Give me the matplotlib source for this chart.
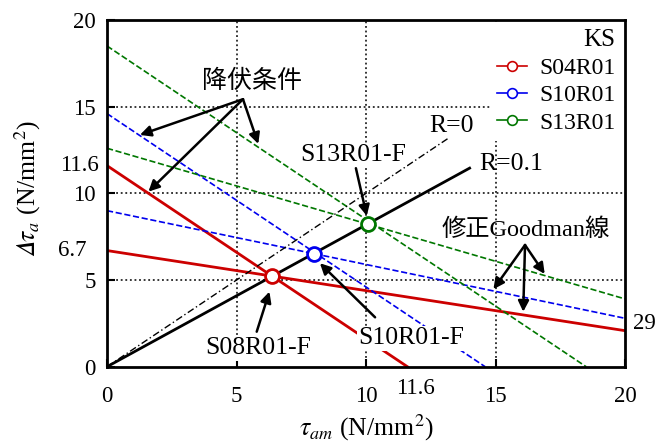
import numpy as np
import matplotlib.pyplot as plt

plt.rcParams['font.family'] = ['Liberation Serif', 'Noto Sans CJK JP']
plt.rcParams['mathtext.fontset'] = 'stix'

# steel grades and their limits (N/mm2)
names = ['S04R01', 'S10R01', 'S13R01']
colors = ['#cc0000', '#0000ee', '#007700']
styles = ['-', '--', '--']
widths = [2.0, 1.2, 1.2]
yield_limit = [11.6, 14.6, 18.5]     # yield condition intercepts
fatigue_limit = [6.7, 9.0, 12.6]     # amplitude at zero mean stress
goodman_x = 29                       # Goodman line x-intercept
R_lines = [0.0, 0.1]

fig = plt.figure(figsize=(6.59, 4.43), dpi=100)
ax = fig.add_axes([0.1624, 0.1722, 0.7860, 0.7827])
ax.set_xlim(0, 20)
ax.set_ylim(0, 20)

for v in [5, 10, 15]:
    ax.axvline(v, color='k', ls=(0, (1.2, 1.8)), lw=1.1, zorder=1)
    ax.axhline(v, color='k', ls=(0, (1.2, 1.8)), lw=1.1, zorder=1)

x = np.array([0, 20])
k01 = (1 - R_lines[1]) / (1 + R_lines[1])
for name, c, ls, lw, sy, sw in zip(names, colors, styles, widths, yield_limit, fatigue_limit):
    # yield condition
    ax.plot([0, sy], [sy, 0], color=c, ls=ls, lw=lw, zorder=2)
    # modified Goodman line
    ax.plot(x, sw * (1 - x / goodman_x), color=c, ls=ls, lw=lw, zorder=2)
    # failure point on the R=0.1 line
    xf = sw / (k01 + sw / goodman_x)
    ax.plot(xf, k01 * xf, 'o', ms=10, mfc='white', mec=c, mew=2, zorder=5)
    ax.plot([], [], color=c, lw=1.2, marker='o', ms=7, mfc='white', mec=c, mew=1.2, label=name)

ax.plot([0, 13.2], [0, 13.2], color='k', lw=1.0, ls=(0, (5, 2, 1, 2)), zorder=3)
ax.plot([0, 14.0], [0, 14.0 * k01], color='k', lw=2.0, zorder=3)
ax.text(13.3, 13.9, 'R=0', fontsize=18.5, ha='center', va='center')
ax.text(15.6, 11.7, 'R=0.1', fontsize=18.5, ha='center', va='center')

arrow = dict(arrowstyle='-|>', color='k', lw=1.8, mutation_scale=16, shrinkA=0, shrinkB=0)
box = dict(facecolor='white', edgecolor='none', pad=1)

ax.text(5.59, 16.45, '降伏条件', fontsize=18, ha='center', va='center')
for tx, ty in [(1.27, 13.37), (1.6, 10.1), (5.84, 12.85)]:
    ax.annotate('', xy=(tx, ty), xytext=(5.25, 15.43), arrowprops=arrow)

ax.text(16.18, 7.93, '修正Goodman線', fontsize=17.5, ha='center', va='center')
for tx, ty in [(14.92, 4.47), (16.07, 3.17), (16.9, 5.35)]:
    ax.annotate('', xy=(tx, ty), xytext=(16.14, 7.02), arrowprops=arrow)

ax.text(9.5, 12.2, 'S13R01-F', fontsize=18.5, ha='center', va='center', bbox=box, zorder=4)
ax.annotate('', xy=(10.03, 8.7), xytext=(9.61, 11.45), arrowprops=arrow)
ax.text(11.76, 1.64, 'S10R01-F', fontsize=18.5, ha='center', va='center', bbox=box, zorder=4)
ax.annotate('', xy=(8.22, 5.97), xytext=(10.35, 2.85), arrowprops=arrow)
ax.text(5.84, 1.06, 'S08R01-F', fontsize=18.5, ha='center', va='center', bbox=box, zorder=4)
ax.annotate('', xy=(6.27, 4.33), xytext=(5.78, 2.02), arrowprops=arrow)

ticks = [0, 5, 10, 15, 20]
ax.set_xticks(ticks)
ax.set_yticks(ticks)
ax.tick_params(direction='in', length=6, width=1.5, labelsize=16.5)
ax.tick_params(axis='y', pad=8)
ax.tick_params(axis='x', pad=14)
for s in ax.spines.values():
    s.set_linewidth(2)

# extra values marked beside the axes
ax.text(-0.3, yield_limit[0], '11.6', fontsize=16.5, ha='right', va='center', clip_on=False)
ax.text(-0.8, fatigue_limit[0], '6.7', fontsize=16.5, ha='right', va='center', clip_on=False)
ax.text(11.9, -1.25, '11.6', fontsize=16.5, ha='center', va='center', clip_on=False)
ax.text(20.3, 2.5, str(goodman_x), fontsize=16.5, ha='left', va='center', clip_on=False)

ax.set_xlabel(r'$\tau_{am}$ (N/mm$^2$)', fontsize=18.5)
ax.set_ylabel('$\U0001D6E5\\tau_a$ (N/mm$^2$)', fontsize=18.5)
ax.xaxis.set_label_coords(0.5, -0.175)
ax.yaxis.set_label_coords(-0.154, 0.515)
ax.xaxis.label.set_va('center')
ax.yaxis.label.set_va('center')

leg = ax.legend(title='KS', loc='upper right', fontsize=17, title_fontsize=18,
                frameon=True, edgecolor='none', facecolor='white', framealpha=1,
                handlelength=1.3, handletextpad=0.5, borderpad=0.3, labelspacing=0.25,
                borderaxespad=0.1, alignment='right')
leg.set_zorder(6)

plt.savefig('out.png', dpi=100)
